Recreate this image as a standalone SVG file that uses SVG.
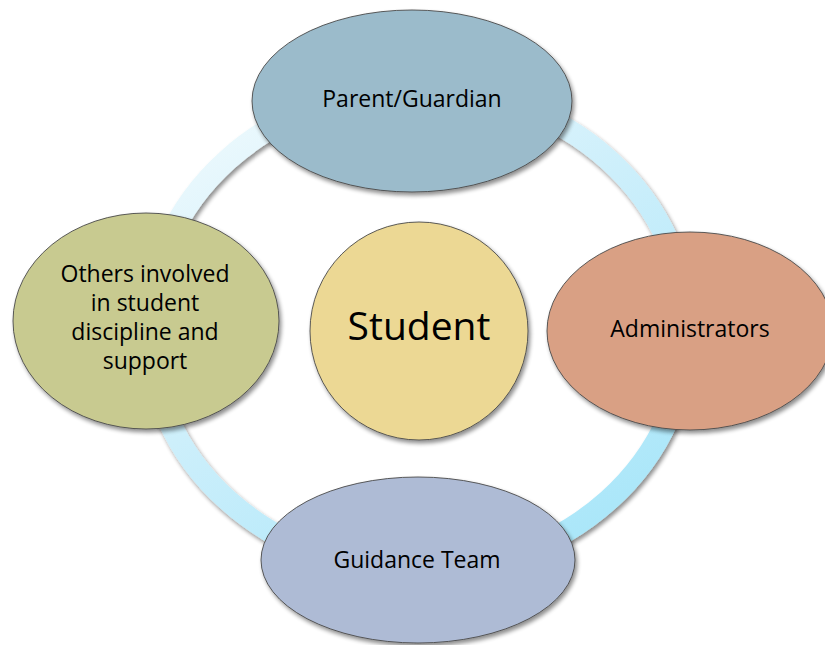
<svg xmlns="http://www.w3.org/2000/svg" width="825" height="645" viewBox="0 0 825 645">
  <defs>
    <linearGradient id="ringFill" gradientUnits="userSpaceOnUse" x1="260" y1="85" x2="560" y2="575">
      <stop offset="0" stop-color="#edf9fd"/>
      <stop offset="0.45" stop-color="#cdeffb"/>
      <stop offset="1" stop-color="#a8e6f9"/>
    </linearGradient>
    <filter id="shadow" x="-10%" y="-10%" width="125%" height="130%">
      <feGaussianBlur in="SourceAlpha" stdDeviation="2"/>
      <feOffset dx="2" dy="3" result="off"/>
      <feComponentTransfer><feFuncA type="linear" slope="0.45"/></feComponentTransfer>
      <feMerge><feMergeNode/><feMergeNode in="SourceGraphic"/></feMerge>
    </filter>
  </defs>
  <style>
    .node { stroke: #4a4a4a; stroke-width: 0.9; filter: url(#shadow); }
    .label { font-family: "Open Sans", "Liberation Sans", sans-serif; font-size: 23px; fill: #000; text-anchor: middle; }
    .big { font-size: 39px; }
  </style>

  <!-- connecting ring behind the outer nodes -->
  <g id="connectors">
    <ellipse cx="418" cy="330" rx="269" ry="241" fill="none" stroke="url(#ringFill)" stroke-width="22" filter="url(#shadow)"/>
  </g>

  <g id="student">
    <circle class="node" cx="419" cy="331" r="109" fill="#ecd894"/>
    <text class="label big" x="419" y="340">Student</text>
  </g>

  <g id="parent-guardian">
    <ellipse class="node" cx="412" cy="101" rx="160" ry="91" fill="#9bbbcb"/>
    <text class="label" x="412" y="107">Parent/Guardian</text>
  </g>

  <g id="administrators">
    <ellipse class="node" cx="690" cy="331" rx="143" ry="99" fill="#d9a084"/>
    <text class="label" x="690" y="337">Administrators</text>
  </g>

  <g id="guidance-team">
    <ellipse class="node" cx="418" cy="560" rx="157" ry="83" fill="#aebbd5"/>
    <text class="label" x="417" y="568">Guidance Team</text>
  </g>

  <g id="others">
    <ellipse class="node" cx="146" cy="321" rx="133" ry="108" fill="#c8ca90"/>
    <text class="label" x="145" y="282">Others involved</text>
    <text class="label" x="145" y="311">in student</text>
    <text class="label" x="145" y="340">discipline and</text>
    <text class="label" x="145" y="369">support</text>
  </g>
</svg>
